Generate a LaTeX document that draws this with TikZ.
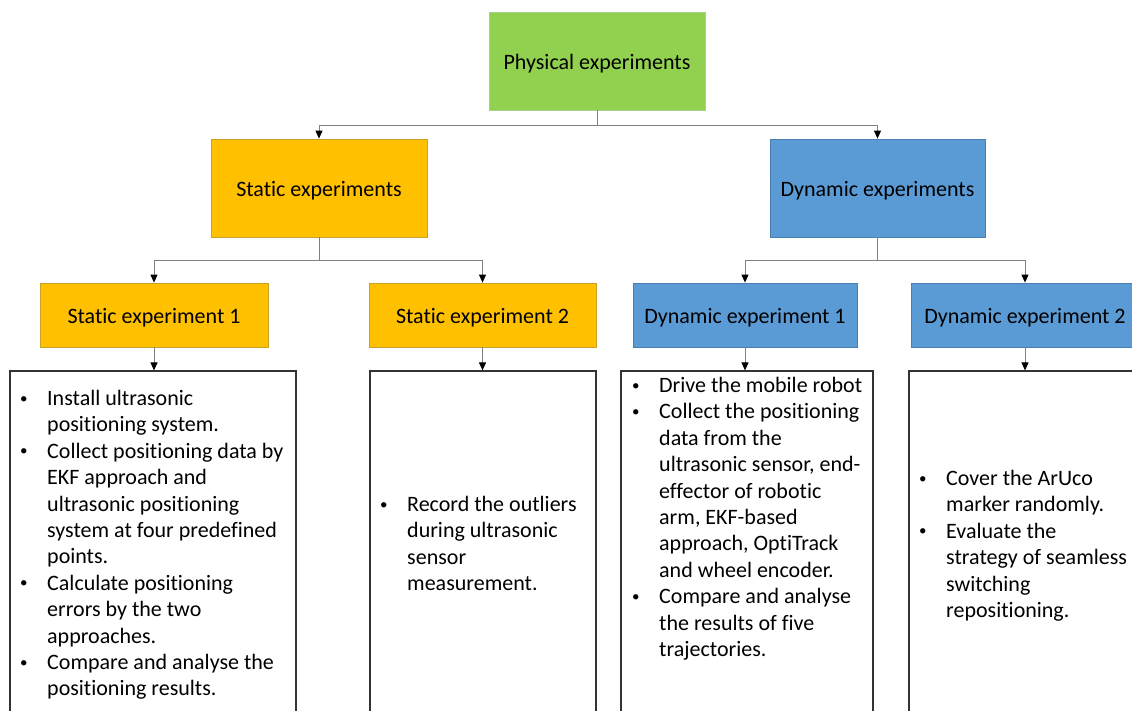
\documentclass[tikz,border=0pt]{standalone}
\usepackage{fontspec}
\setmainfont{Carlito}[RawFeature={-liga;-calt;-clig;-dlig}]
\usetikzlibrary{arrows.meta}
\definecolor{cgreen}{HTML}{92D050}
\definecolor{cgreenb}{HTML}{A9D18E}
\definecolor{corange}{HTML}{FFC000}
\definecolor{coranb}{HTML}{C9A227}
\definecolor{cblue}{HTML}{5B9BD5}
\definecolor{cblueb}{HTML}{4A7EB0}
\definecolor{cline}{HTML}{808080}
\newcommand{\bl}[1]{\makebox[28pt][l]{\hspace*{1pt}\raisebox{2.4pt}{\fontsize{15}{15}\selectfont •}}#1}
\newcommand{\ind}{\hspace*{28pt}}
\tikzset{
  lbl/.style={font=\fontsize{22}{26.4}\selectfont, text=black, inner sep=0pt},
  boxlbl/.style={lbl, text height=16pt, text depth=0pt},
  greenbox/.style={boxlbl, rectangle, fill=cgreen, draw=cgreenb, line width=0.8pt},
  orangebox/.style={boxlbl, rectangle, fill=corange, draw=coranb, line width=0.8pt},
  bluebox/.style={boxlbl, rectangle, fill=cblue, draw=cblueb, line width=0.8pt},
  big/.style={minimum height=98pt},
  small/.style={minimum height=64pt},
  listbox/.style={rectangle, draw=black!80, line width=1.2pt, minimum height=342pt, inner sep=0pt},
  txt/.style={lbl, align=left, anchor=north west},
  conn/.style={draw=cline, line width=1pt, -{Triangle[length=8pt,width=7pt,color=black]}}
}
\begin{document}
\begin{tikzpicture}[x=1pt,y=-1pt]
\useasboundingbox (0,0) rectangle (1132,710);
\fill[white] (0,0) rectangle (1132,710);
\clip (0,0) rectangle (1132,710);

% top level
\node[greenbox, big, minimum width=216pt] (pe) at (597,61) {Physical experiments};
\node[orangebox, big, minimum width=216pt] (se) at (319,188) {Static experiments};
\node[bluebox, big, minimum width=215pt] (de) at (877.5,188) {Dynamic experiments};

% second level
\node[orangebox, small, minimum width=228pt] (s1) at (154,315) {Static experiment 1};
\node[orangebox, small, minimum width=227pt] (s2) at (482.5,315) {Static experiment 2};
\node[bluebox, small, minimum width=224pt] (d1) at (745,315) {Dynamic experiment 1};
\node[bluebox, small, minimum width=228pt] (d2) at (1025,315) {Dynamic experiment 2};

% list boxes
\node[listbox, minimum width=286pt] (b1) at (153,542) {};
\node[listbox, minimum width=226pt] (b2) at (483,542) {};
\node[listbox, minimum width=252pt] (b3) at (747,542) {};
\node[listbox, minimum width=232pt] (b4) at (1025,542) {};

% texts
\node[txt] (t1) at (19,390) {\bl{Install ultrasonic}\\ \ind positioning system.\\
\bl{Collect positioning data by}\\ \ind EKF approach and\\ \ind ultrasonic positioning\\
\ind system at four predefined\\ \ind points.\\
\bl{Calculate positioning}\\ \ind errors by the two\\ \ind approaches.\\
\bl{Compare and analyse the}\\ \ind positioning results.};

\node[txt] (t2) at (379,496) {\bl{Record the outliers}\\ \ind during ultrasonic\\ \ind sensor\\ \ind measurement.};

\node[txt] (t3) at (631,377) {\bl{Drive the mobile robot}\\
\bl{Collect the positioning}\\ \ind data from the\\ \ind ultrasonic sensor, end-\\
\ind effector of robotic\\ \ind arm, EKF-based\\ \ind approach, OptiTrack\\ \ind and wheel encoder.\\
\bl{Compare and analyse}\\ \ind the results of five\\ \ind trajectories.};

\node[txt] (t4) at (918,470) {\bl{Cover the ArUco}\\ \ind marker randomly.\\
\bl{Evaluate the}\\ \ind strategy of seamless\\ \ind switching\\ \ind repositioning.};

% connectors
\draw[conn] (pe.south) -- ++(0,15) -| (se.north);
\draw[conn] (pe.south) -- ++(0,15) -| (de.north);
\draw[conn] (se.south) -- ++(0,23) -| (s1.north);
\draw[conn] (se.south) -- ++(0,23) -| (s2.north);
\draw[conn] (de.south) -- ++(0,23) -| (d1.north);
\draw[conn] (de.south) -- ++(0,23) -| (d2.north);
\draw[conn] (s1.south) -- (b1.north -| s1.south);
\draw[conn] (s2.south) -- (b2.north -| s2.south);
\draw[conn] (d1.south) -- (b3.north -| d1.south);
\draw[conn] (d2.south) -- (b4.north -| d2.south);
\end{tikzpicture}
\end{document}
